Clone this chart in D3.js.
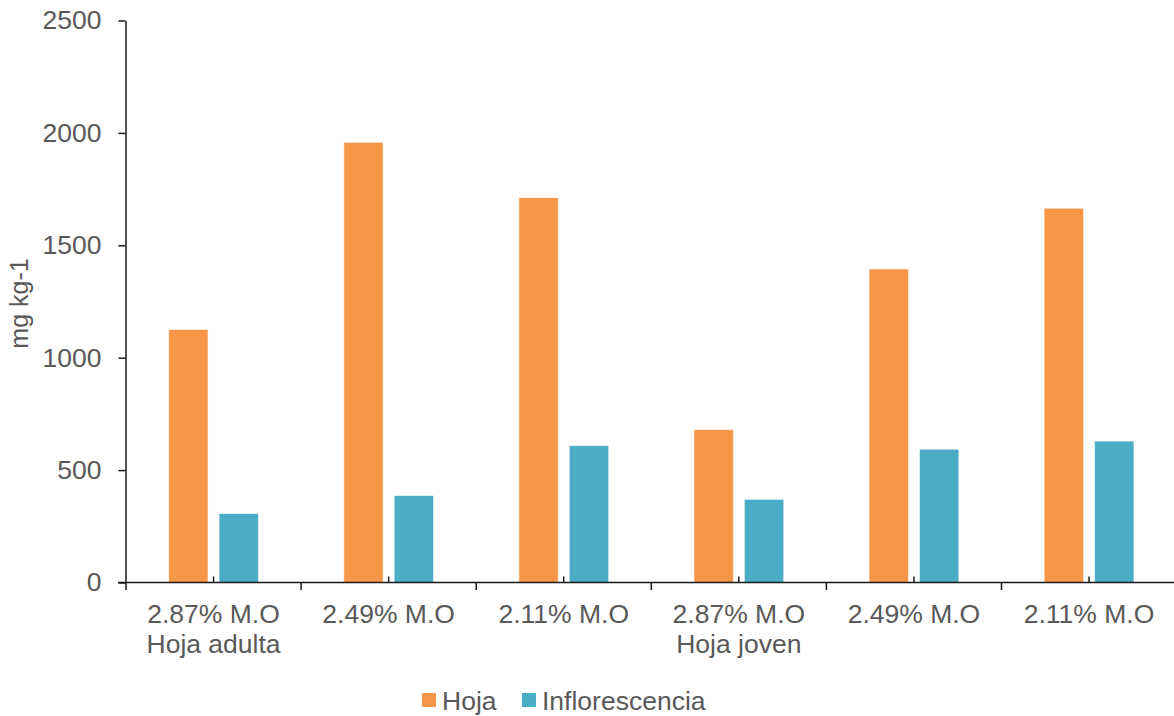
<!DOCTYPE html>
<html>
<head>
<meta charset="utf-8">
<script src="https://cdn.jsdelivr.net/npm/d3@7"></script>
<style>
  html, body { margin: 0; padding: 0; background: #fff; }
  svg { display: block; font-family: "Liberation Sans", Arial, sans-serif; }
</style>
</head>
<body>
<svg id="chart" width="1174" height="716"></svg>
<script>
// Contents (mg kg-1) by organic matter level, grouped by leaf age
const categories = ["2.87% M.O", "2.49% M.O", "2.11% M.O", "2.87% M.O", "2.49% M.O", "2.11% M.O"];
const groupLabels = ["Hoja adulta", "", "", "Hoja joven", "", ""];
const seriesNames = ["Hoja", "Inflorescencia"];
const hoja = [1126, 1958, 1712, 680, 1395, 1665];
const inflorescencia = [307, 387, 609, 370, 593, 629];
const yTicks = [0, 500, 1000, 1500, 2000, 2500];
const colors = ["#F79646", "#4BACC6"];

const rows = categories.map((c, i) => ({ idx: i, cat: c, values: [hoja[i], inflorescencia[i]] }));

const svg = d3.select("#chart");
const textColor = "#595959";
const axisColor = "#1a1a1a";
const fontSize = "26.5px";

const x0 = d3.scaleBand().domain(d3.range(categories.length)).range([126, 126 + 6 * 175.1]).padding(0);
const x1 = d3.scaleBand().domain(d3.range(seriesNames.length)).range([0, x0.bandwidth()])
  .paddingInner(0.218).paddingOuter(0.846);
const y = d3.scaleLinear().domain([0, 2500]).range([582.5, 20.5]);

// Bars
const g = svg.append("g");
g.selectAll("g.cat").data(rows).join("g")
  .attr("class", "cat")
  .attr("transform", d => `translate(${x0(d.idx)},0)`)
  .selectAll("rect").data(d => d.values.map((v, k) => ({ v, k }))).join("rect")
  .attr("x", d => x1(d.k))
  .attr("width", x1.bandwidth())
  .attr("y", d => y(d.v))
  .attr("height", d => y(0) - y(d.v))
  .attr("fill", d => colors[d.k])
  .attr("stroke", "#ffffff")
  .attr("stroke-opacity", 0.6)
  .attr("stroke-width", 1);

// Y axis
const yAxis = svg.append("g").attr("transform", "translate(125.5,0)")
  .call(d3.axisLeft(y).tickValues(yTicks).tickFormat(d3.format("d"))
    .tickSize(7).tickPadding(17).tickSizeOuter(0));
yAxis.select(".domain").attr("stroke", axisColor).attr("stroke-width", 1.5);
yAxis.selectAll(".tick line").attr("stroke", axisColor).attr("stroke-width", 1.5);
yAxis.selectAll(".tick text").attr("fill", textColor).style("font-size", fontSize)
  .style("font-family", "'Liberation Sans', Arial, sans-serif");

// X axis line
svg.append("line")
  .attr("x1", 118).attr("x2", 1174)
  .attr("y1", y(0)).attr("y2", y(0))
  .attr("stroke", axisColor).attr("stroke-width", 1.5);

// Category boundary ticks (down)
const bounds = d3.range(categories.length).map(i => x0(i));
svg.selectAll("line.btick").data(bounds).join("line")
  .attr("class", "btick")
  .attr("x1", d => d).attr("x2", d => d)
  .attr("y1", y(0)).attr("y2", y(0) + 7.5)
  .attr("stroke", axisColor).attr("stroke-width", 1.5);

// Small centre ticks (up)
svg.selectAll("line.ctick").data(d3.range(categories.length)).join("line")
  .attr("class", "ctick")
  .attr("x1", i => x0(i) + x0.bandwidth() / 2).attr("x2", i => x0(i) + x0.bandwidth() / 2)
  .attr("y1", y(0) - 6).attr("y2", y(0))
  .attr("stroke", axisColor).attr("stroke-width", 1.5);

// Category labels
svg.selectAll("text.cat").data(rows).join("text")
  .attr("class", "cat")
  .attr("x", d => x0(d.idx) + x0.bandwidth() / 2)
  .attr("y", 623)
  .attr("text-anchor", "middle")
  .attr("fill", textColor)
  .style("font-size", fontSize)
  .text(d => d.cat);

// Group labels
svg.selectAll("text.grp").data(rows.filter(d => groupLabels[d.idx])).join("text")
  .attr("class", "grp")
  .attr("x", d => x0(d.idx) + x0.bandwidth() / 2)
  .attr("y", 653)
  .attr("text-anchor", "middle")
  .attr("fill", textColor)
  .style("font-size", fontSize)
  .text(d => groupLabels[d.idx]);

// Y axis title
svg.append("text")
  .attr("transform", "translate(28,303.5) rotate(-90)")
  .attr("text-anchor", "middle")
  .attr("fill", textColor)
  .style("font-size", "25px")
  .text("mg kg-1");

// Legend
const legendX = [422, 522];
const legend = svg.selectAll("g.leg").data(seriesNames).join("g")
  .attr("class", "leg")
  .attr("transform", (d, i) => `translate(${legendX[i]},693)`);
legend.append("rect").attr("width", 14).attr("height", 14).attr("fill", (d, i) => colors[i]);
legend.append("text").attr("x", 20).attr("y", 16.5)
  .attr("fill", textColor).style("font-size", fontSize).text(d => d);
</script>
</body>
</html>
